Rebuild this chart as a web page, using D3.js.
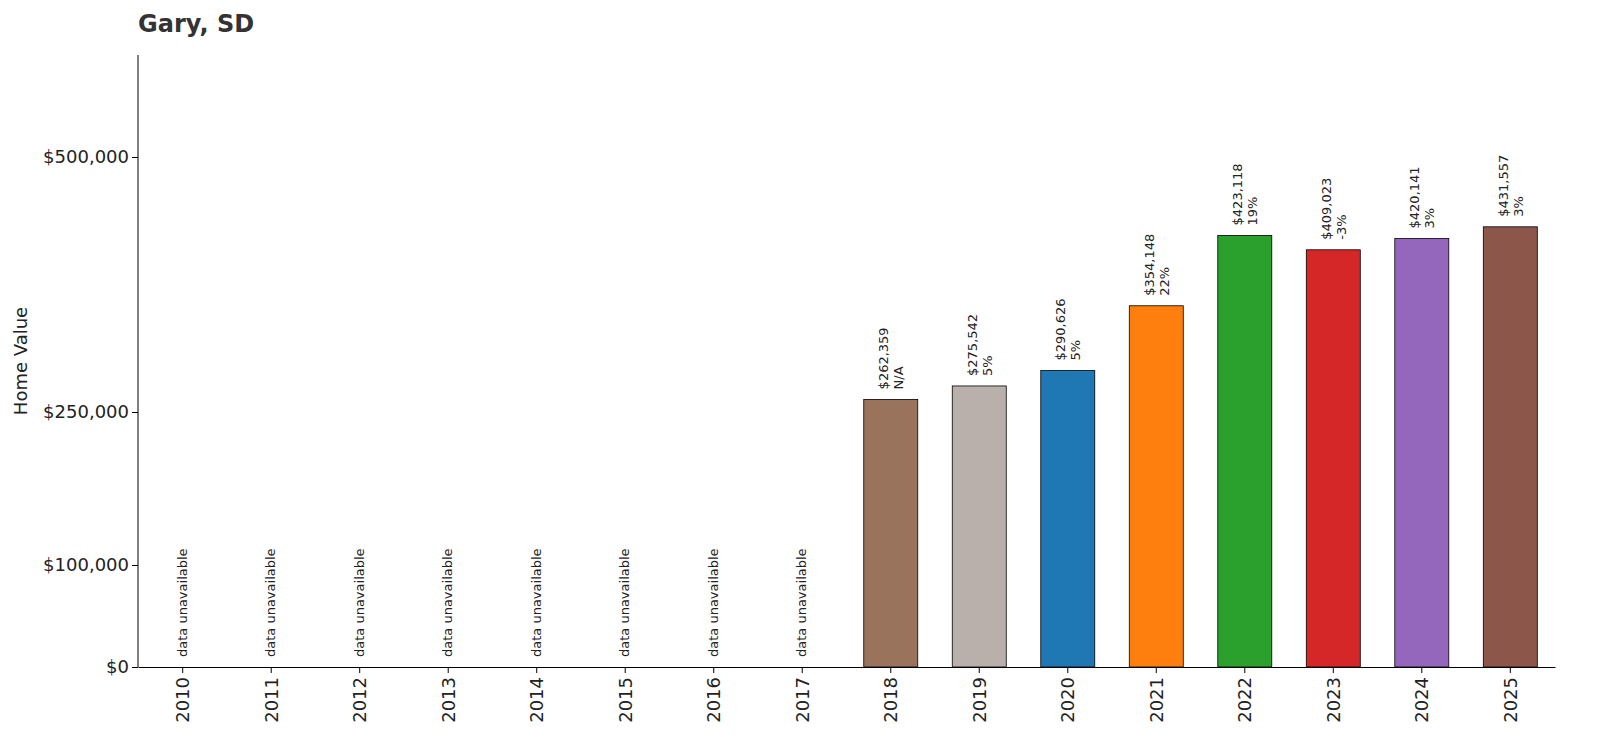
<!DOCTYPE html>
<html><head><meta charset="utf-8">
<script src="https://cdn.jsdelivr.net/npm/d3@7"></script>
<style>body{margin:0;background:#fff;font-family:"DejaVu Sans",sans-serif}</style>
</head><body><svg id="c" width="1600" height="750"></svg>
<script>
const years=["2010","2011","2012","2013","2014","2015","2016","2017","2018","2019","2020","2021","2022","2023","2024","2025"];
const values=[null,null,null,null,null,null,null,null,262359,275542,290626,354148,423118,409023,420141,431557];
const changes=["","","","","","","","","N/A","5%","5%","22%","19%","-3%","3%","3%"];
const colors=["","","","","","","","","#9a735c","#bab0ab","#1f77b4","#ff7f0e","#2ca02c","#d62728","#9467bd","#8c564b"];
const yTicks=[0,100000,250000,500000];
const svg=d3.select("#c");
const m={l:138,r:1555,t:55,b:667};
const x=d3.scaleBand().domain(years).range([m.l,m.r]).paddingInner(0.39).paddingOuter(0.2);
const y=d3.scaleLinear().domain([0,600000]).range([m.b,m.t]);
const fmt=d3.format("$,");
svg.append("text").attr("x",138).attr("y",32).attr("font-size",24).attr("font-weight","bold").attr("fill","#333").text("Gary, SD");
svg.append("g").attr("transform",`translate(${m.l},0)`).call(d3.axisLeft(y).tickValues(yTicks).tickFormat(fmt).tickSizeOuter(0))
 .call(g=>{g.selectAll("text").attr("font-size",18).attr("fill","#222").attr("font-family","DejaVu Sans");g.select(".domain").attr("d",`M0,${m.b}V${m.t}`);});
svg.append("g").attr("transform",`translate(0,${m.b})`).call(d3.axisBottom(x).tickSizeOuter(0))
 .call(g=>{g.selectAll("text").attr("font-size",18).attr("fill","#222").attr("font-family","DejaVu Sans").attr("transform","rotate(-90)").attr("text-anchor","end").attr("x",-10).attr("y",0).attr("dy","0.35em");});
svg.append("text").attr("transform","rotate(-90)").attr("x",-(m.b+m.t)/2+0).attr("y",27).attr("text-anchor","middle").attr("font-size",18).attr("fill","#222").text("Home Value");
years.forEach((yr,i)=>{
 const cx=x(yr)+x.bandwidth()/2;
 if(values[i]==null){
  svg.append("text").attr("transform",`translate(${cx+4},${m.b-10}) rotate(-90)`).attr("font-size",13).attr("fill","#222").text("data unavailable");
 } else {
  svg.append("rect").attr("x",x(yr)).attr("y",y(values[i])).attr("width",x.bandwidth()).attr("height",m.b-y(values[i])).attr("fill",colors[i]).attr("stroke","#000").attr("stroke-width",0.8);
  const t=svg.append("text").attr("transform",`translate(${cx},${y(values[i])-10}) rotate(-90)`).attr("font-size",13).attr("fill","#222");
  t.append("tspan").attr("x",0).attr("dy","-0.2em").text(fmt(values[i]));
  t.append("tspan").attr("x",0).attr("dy","1.15em").text(changes[i]);
 }
});
</script></body></html>
